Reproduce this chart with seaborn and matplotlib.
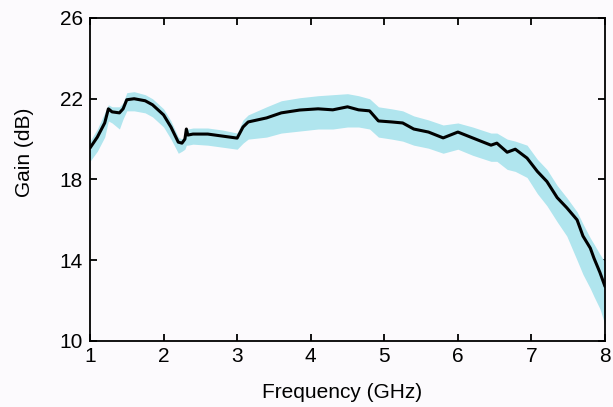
import matplotlib
matplotlib.use("Agg")
import matplotlib.pyplot as plt
import seaborn as sns
import pandas as pd

# values
freq = [1.0, 1.1, 1.2, 1.25, 1.3, 1.4, 1.45, 1.5, 1.6, 1.75, 1.85, 2.0, 2.1, 2.2, 2.25,
        2.29, 2.31, 2.33, 2.4, 2.6, 2.8, 3.0, 3.08, 3.15, 3.4, 3.6, 3.85, 4.1, 4.3, 4.5,
        4.65, 4.8, 4.92, 5.1, 5.25, 5.4, 5.6, 5.8, 6.0, 6.2, 6.45, 6.53, 6.67, 6.78, 6.94,
        7.08, 7.21, 7.35, 7.48, 7.62, 7.7, 7.8, 7.85, 7.93, 8.0]
gain = [19.56, 20.1, 20.8, 21.5, 21.35, 21.3, 21.5, 21.95, 22.0, 21.9, 21.7, 21.2, 20.6, 19.85, 19.8,
        20.0, 20.5, 20.2, 20.25, 20.25, 20.15, 20.05, 20.6, 20.85, 21.05, 21.3, 21.44, 21.5, 21.45, 21.6,
        21.45, 21.4, 20.9, 20.85, 20.8, 20.5, 20.35, 20.06, 20.35, 20.06, 19.7, 19.8, 19.35, 19.5, 19.06,
        18.4, 17.9, 17.1, 16.6, 16.0, 15.2, 14.6, 14.1, 13.4, 12.7]
band_hi = [19.9, 20.5, 21.3, 21.7, 21.6, 21.6, 21.8, 22.3, 22.35, 22.2, 22.0, 21.5, 20.9, 20.1, 20.0,
           20.2, 20.5, 20.5, 20.55, 20.55, 20.45, 20.3, 20.95, 21.2, 21.6, 21.9, 22.05, 22.15, 22.2, 22.25,
           22.15, 22.0, 21.6, 21.5, 21.4, 21.15, 20.95, 20.7, 20.8, 20.6, 20.3, 20.3, 20.0, 19.9, 19.7,
           19.0, 18.5, 17.7, 17.1, 16.4, 15.8, 15.1, 14.8, 14.3, 13.9]
band_lo = [18.9, 19.4, 20.1, 20.9, 20.8, 20.5, 21.0, 21.4, 21.4, 21.3, 21.1, 20.6, 20.0, 19.3, 19.4,
           19.5, 19.7, 19.7, 19.75, 19.7, 19.6, 19.5, 19.8, 20.0, 20.1, 20.3, 20.4, 20.5, 20.5, 20.6,
           20.6, 20.5, 20.1, 20.0, 19.9, 19.7, 19.55, 19.3, 19.5, 19.2, 18.9, 18.9, 18.5, 18.4, 18.1,
           17.3, 16.7, 15.9, 15.2, 14.0, 13.3, 12.6, 12.2, 11.6, 10.8]

df = pd.DataFrame({"freq": freq, "gain": gain, "lo": band_lo, "hi": band_hi})

sns.set_style("ticks")
plt.rcParams["font.family"] = ["Liberation Sans", "DejaVu Sans"]

bg = "#fcfafd"
fig = plt.figure(figsize=(6.13, 4.07), dpi=100, facecolor=bg)
ax = fig.add_axes([0.1468, 0.1622, 0.8402, 0.7936], facecolor=bg)

ax.fill_between(df["freq"], df["lo"], df["hi"], color="#b0e5ee", linewidth=0)
sns.lineplot(data=df, x="freq", y="gain", color="black", linewidth=2.2, ax=ax)

ax.set_xlim(1, 8)
ax.set_ylim(10, 26)
ax.set_xticks(range(1, 9))
ax.set_yticks([10, 14, 18, 22, 26])
for s in ax.spines.values():
    s.set_visible(True)
    s.set_linewidth(1.3)
    s.set_color("black")
ax.tick_params(direction="in", length=5, width=1.3, top=True, right=True,
               labelsize=15, colors="black")
ax.tick_params(axis="y", pad=5)
ax.tick_params(axis="x", pad=4)

ax.set_xlabel("Frequency (GHz)", fontsize=15, color="black")
ax.set_ylabel("Gain (dB)", fontsize=15, color="black")
ax.xaxis.set_label_coords(0.49, -0.13)
ax.yaxis.set_label_coords(-0.108, 0.585)

fig.savefig("out.png", dpi=100, facecolor=bg)
